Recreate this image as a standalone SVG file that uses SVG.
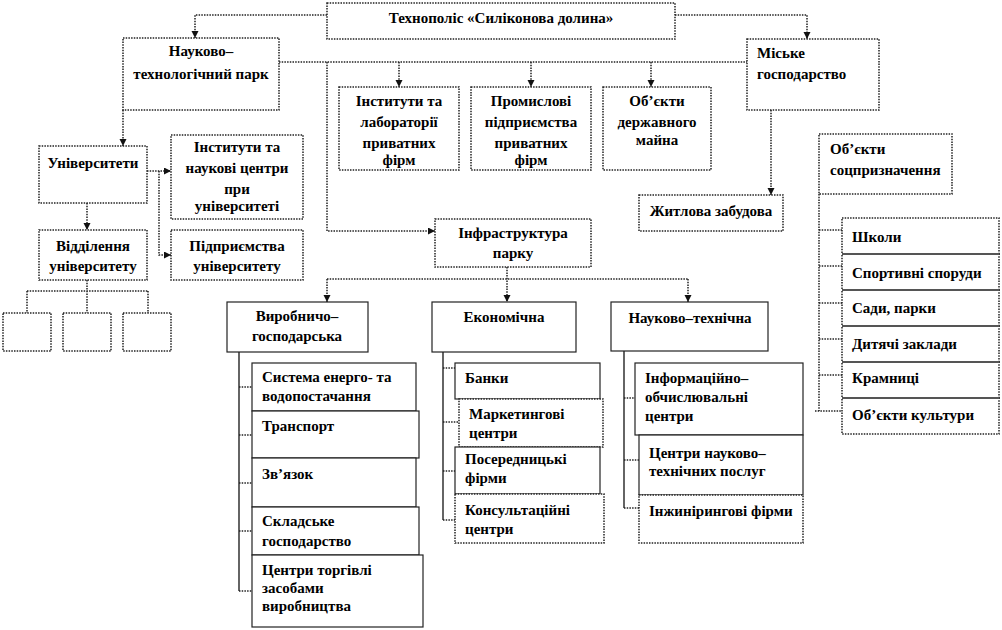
<svg xmlns="http://www.w3.org/2000/svg" width="1002" height="630" viewBox="0 0 1002 630" font-family="'Liberation Serif', 'Times New Roman', serif">
<style>
.d{fill:#fff;stroke:#222;stroke-width:1.5;stroke-dasharray:1.5 1.2}
.s{fill:#fff;stroke:#222;stroke-width:1.2}
.c{fill:none;stroke:#222;stroke-width:1.5;stroke-dasharray:1.5 1.2}
.v{fill:none;stroke:#111;stroke-width:1.3}
.sep{fill:none;stroke:#555;stroke-width:2}
text{font-family:"Liberation Serif","Times New Roman",serif;font-weight:bold;font-size:15px;fill:#000}
.m{text-anchor:middle}
</style>
<defs>
<marker id="a" markerWidth="8" markerHeight="8" refX="7" refY="3.5" orient="auto" markerUnits="userSpaceOnUse">
<path d="M0,0 L7,3.5 L0,7 z" fill="#111"/>
</marker>
</defs>
<rect width="1002" height="630" fill="#fff"/>

<g id="connectors">
<path class="c" d="M327,15 H195 V38" marker-end="url(#a)"/>
<path class="c" d="M675,15 H807 V39" marker-end="url(#a)"/>
<path class="c" d="M279,62 H747"/>
<path class="c" d="M399,62 V87" marker-end="url(#a)"/>
<path class="c" d="M531,62 V87" marker-end="url(#a)"/>
<path class="c" d="M651,62 V87" marker-end="url(#a)"/>
<path class="c" d="M327,62 V231 H435" marker-end="url(#a)"/>
<path class="c" d="M123,110 V146" marker-end="url(#a)"/>
<path class="c" d="M147,171 H171" marker-end="url(#a)"/>
<path class="c" d="M159,171 V255 H171" marker-end="url(#a)"/>
<path class="c" d="M87,203 V230" marker-end="url(#a)"/>
<path class="c" d="M87,280 V313 M27,291 H148 M27,291 V313 M148,291 V313"/>
<path class="c" d="M771,110 V195" marker-end="url(#a)"/>
<path class="c" d="M507,267 V302" marker-end="url(#a)"/>
<path class="c" d="M327,279 H688"/>
<path class="c" d="M327,279 V302" marker-end="url(#a)"/>
<path class="c" d="M688,279 V302" marker-end="url(#a)"/>
<path class="v" d="M239,352 V591"/>
<path class="c" d="M239,387 H252 M239,435 H252 M239,483 H252 M239,531 H252 M239,591 H252"/>
<path class="v" d="M443,352 V520"/>
<path class="c" d="M443,368 H455 M443,422 H459 M443,471 H455 M443,520 H455"/>
<path class="v" d="M624,351 V508"/>
<path class="c" d="M624,398 H635 M624,460 H639 M624,508 H639"/>
<path class="c" d="M819,194 V411"/>
<path class="c" d="M819,230 H842 M819,266 H842 M819,303 H842 M819,339 H842 M819,375 H842 M815,411 H842"/>
</g>

<g id="n-top"><rect class="d" x="327" y="3" width="348" height="36"/><text class="m" x="501" y="23">Технополіс «Силіконова долина»</text></g>
<g id="n-nauk"><rect class="d" x="123" y="38" width="156" height="72"/><text class="m" x="201" y="56">Науково–</text><text class="m" x="201" y="79">технологічний парк</text></g>
<g id="n-misk"><rect class="d" x="747" y="39" width="132" height="71"/><text x="757" y="58">Міське</text><text x="757" y="79">господарство</text></g>
<g id="n-instlab"><rect class="d" x="339" y="87" width="120" height="83"/><text class="m" x="399" y="106">Інститути та</text><text class="m" x="399" y="127">лабораторії</text><text class="m" x="399" y="148">приватних</text><text class="m" x="399" y="165">фірм</text></g>
<g id="n-prom"><rect class="d" x="471" y="87" width="120" height="83"/><text class="m" x="531" y="106">Промислові</text><text class="m" x="531" y="127">підприємства</text><text class="m" x="531" y="148">приватних</text><text class="m" x="531" y="165">фірм</text></g>
<g id="n-obj"><rect class="d" x="603" y="87" width="108" height="83"/><text class="m" x="657" y="106">Об’єкти</text><text class="m" x="657" y="127">державного</text><text class="m" x="657" y="145">майна</text></g>
<g id="n-univ"><rect class="d" x="39" y="146" width="108" height="57"/><text class="m" x="93" y="168">Університети</text></g>
<g id="n-instuniv"><rect class="d" x="171" y="135" width="132" height="84"/><text class="m" x="237" y="152">Інститути та</text><text class="m" x="237" y="173">наукові центри</text><text class="m" x="237" y="194">при</text><text class="m" x="237" y="211">університеті</text></g>
<g id="n-vidd"><rect class="d" x="39" y="230" width="108" height="50"/><text class="m" x="93" y="251">Відділення</text><text class="m" x="93" y="271">університету</text></g>
<g id="n-pidpr"><rect class="d" x="171" y="230" width="132" height="50"/><text class="m" x="237" y="251">Підприємства</text><text class="m" x="237" y="271">університету</text></g>
<g id="n-sm1"><rect class="d" x="3" y="313" width="48" height="38"/></g>
<g id="n-sm2"><rect class="d" x="63" y="313" width="48" height="38"/></g>
<g id="n-sm3"><rect class="d" x="123" y="313" width="48" height="38"/></g>
<g id="n-zhytl"><rect class="d" x="639" y="195" width="144" height="36"/><text class="m" x="711" y="216">Житлова забудова</text></g>
<g id="n-soc"><rect class="d" x="819" y="134" width="133" height="60"/><text x="830" y="154">Об’єкти</text><text x="830" y="175">соцпризначення</text></g>
<g id="n-infra"><rect class="d" x="435" y="219" width="156" height="48"/><text class="m" x="513" y="238">Інфраструктура</text><text class="m" x="513" y="258">парку</text></g>
<g id="n-vyrob"><rect class="s" x="227" y="302" width="141" height="50"/><text class="m" x="297" y="321">Виробничо–</text><text class="m" x="297" y="341">господарська</text></g>
<g id="n-ekon"><rect class="s" x="432" y="302" width="144" height="50"/><text class="m" x="504" y="322">Економічна</text></g>
<g id="n-nt"><rect class="s" x="611" y="302" width="157" height="49"/><text class="m" x="690" y="323">Науково–технічна</text></g>

<g id="n-v1"><rect class="s" x="252" y="363" width="164" height="48"/><text x="262" y="382">Система енерго- та</text><text x="262" y="401">водопостачання</text></g>
<g id="n-v2"><rect class="s" x="252" y="411" width="167" height="47"/><text x="262" y="431">Транспорт</text></g>
<g id="n-v3"><rect class="s" x="252" y="458" width="164" height="49"/><text x="262" y="479">Зв’язок</text></g>
<g id="n-v4"><rect class="s" x="252" y="507" width="167" height="48"/><text x="262" y="526">Складське</text><text x="262" y="546">господарство</text></g>
<g id="n-v5"><rect class="s" x="252" y="555" width="171" height="72"/><text x="262" y="575">Центри торгівлі</text><text x="262" y="593">засобами</text><text x="262" y="611">виробництва</text></g>

<g id="n-e1"><rect class="s" x="455" y="363" width="145" height="36"/><text x="465" y="383">Банки</text></g>
<g id="n-e2"><rect class="d" x="459" y="399" width="144" height="48"/><text x="469" y="419">Маркетингові</text><text x="469" y="438">центри</text></g>
<g id="n-e3"><rect class="s" x="455" y="447" width="145" height="47"/><text x="465" y="464">Посередницькі</text><text x="465" y="483">фірми</text></g>
<g id="n-e4"><rect class="d" x="455" y="494" width="149" height="49"/><text x="465" y="515">Консультаційні</text><text x="465" y="534">центри</text></g>

<g id="n-t1"><rect class="s" x="635" y="363" width="168" height="72"/><text x="645" y="383">Інформаційно–</text><text x="645" y="402">обчислювальні</text><text x="645" y="421">центри</text></g>
<g id="n-t2"><rect class="s" x="639" y="435" width="164" height="60"/><text x="649" y="458">Центри науково–</text><text x="649" y="476">технічних послуг</text></g>
<g id="n-t3"><rect class="d" x="639" y="495" width="164" height="48"/><text x="649" y="516">Інжинірингові фірми</text></g>

<g id="n-s1"><rect class="d" x="842" y="218" width="157" height="36"/><text x="852" y="242">Школи</text></g>
<g id="n-s2"><rect class="d" x="842" y="254" width="157" height="36"/><text x="852" y="278">Спортивні споруди</text></g>
<g id="n-s3"><rect class="d" x="842" y="290" width="157" height="36"/><text x="852" y="313">Сади, парки</text></g>
<g id="n-s4"><rect class="d" x="842" y="326" width="157" height="36"/><text x="852" y="349">Дитячі заклади</text></g>
<g id="n-s5"><rect class="d" x="842" y="362" width="157" height="36"/><text x="852" y="383">Крамниці</text></g>
<g id="n-s6"><rect class="d" x="842" y="398" width="157" height="36"/><text x="852" y="420">Об’єкти культури</text></g>
<path class="sep" d="M842,254 H999 M842,290 H999 M842,326 H999 M842,362 H999 M842,398 H999"/>
</svg>
